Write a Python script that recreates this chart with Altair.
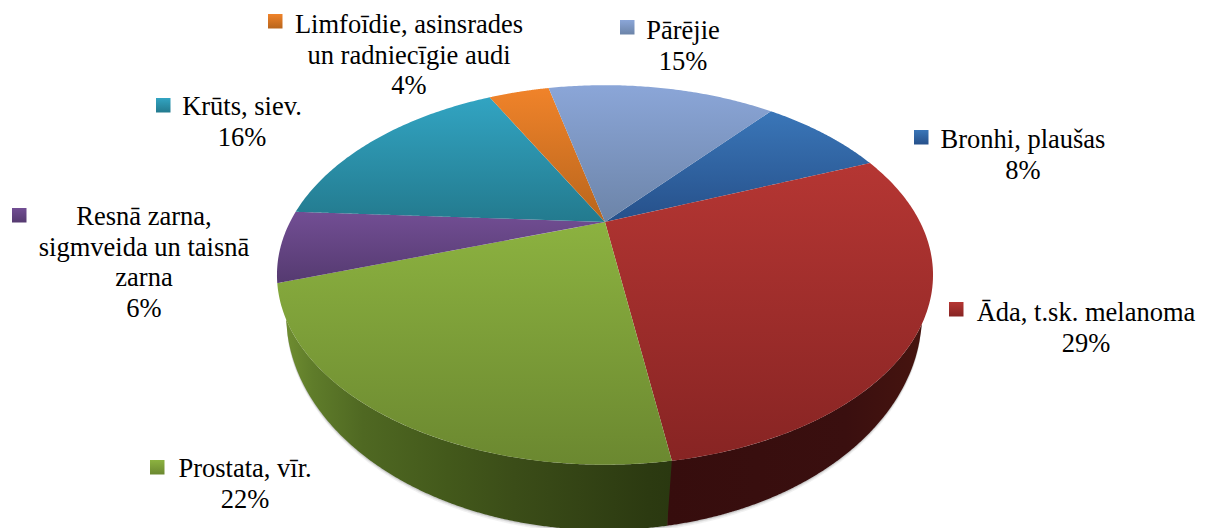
import numpy as np
import pandas as pd
import altair as alt

# ---- data ----
categories = ["Bronhi, plaušas", "Āda, t.sk. melanoma", "Prostata, vīr.",
              "Resnā zarna, sigmveida un taisnā zarna", "Krūts, siev.",
              "Limfoīdie, asinsrades un radniecīgie audi", "Pārējie"]
shares = [7.9, 28.6, 22.3, 6.1, 16.5, 3.9, 14.7]
pct_labels = ["8%", "29%", "22%", "6%", "16%", "4%", "15%"]
top_colors = ["#3a76b8", "#b53633", "#8cb240", "#724e94", "#32a4c2", "#f0832a", "#8ba6d8"]
bottom_colors = ["#26508a", "#872423", "#6b8830", "#553a70", "#237a8e", "#b8651c", "#6c84a8"]

label_lines = [
    ["Bronhi, plaušas"],
    ["Āda, t.sk. melanoma"],
    ["Prostata, vīr."],
    ["Resnā zarna,", "sigmveida un taisnā", "zarna"],
    ["Krūts, siev."],
    ["Limfoīdie, asinsrades", "un radniecīgie audi"],
    ["Pārējie"],
]

# ---- layout (page pixels) ----
W, H = 1192, 520
OFF = 8
APEX = (605.0, 222.0)
FX, FY, PERSP = 315.0, 175.0, 0.279
START = 50.24
LOW = dict(cx=604.0, cy=314.0, a=318.0, b=216.0)
label_cx = [1023, 1086, 245, 144, 242, 409, 683]
label_y = [148, 321, 477, 225, 115, 33, 39]
line_step = 30.6
key_xy = [(914, 130), (949, 302), (150, 460), (12, 208), (156, 98), (268, 14), (620, 20)]
KEY = 14.5
FONT = "Liberation Serif"
FSIZE = 26.5

X_SCALE = alt.Scale(domain=[0, W], nice=False, zero=False)
Y_SCALE = alt.Scale(domain=[H, 0], nice=False, zero=False)


def project(deg):
    t = np.radians(deg)
    c, s = np.cos(t), np.sin(t)
    den = 1 + PERSP * s
    return APEX[0] + FX * c / den, APEX[1] - FY * s / den


def grad(stops, horizontal=False):
    return alt.Gradient(
        gradient="linear",
        stops=[alt.GradientStop(color=c, offset=o) for o, c in stops],
        x1=0, y1=0, x2=1 if horizontal else 0, y2=0 if horizontal else 1,
    )


def area_layer(x, y0, y1, fill, opacity=1.0):
    df = pd.DataFrame({"x": np.asarray(x) - OFF, "y0": np.asarray(y0) - OFF, "y1": np.asarray(y1) - OFF})
    return alt.Chart(df).mark_area(color=fill, orient="vertical", opacity=opacity, clip=False).encode(
        x=alt.X("x:Q", scale=X_SCALE, axis=None),
        y=alt.Y("y0:Q", scale=Y_SCALE, axis=None),
        y2="y1:Q",
    )


def wedge(a0, a1):
    ts = np.linspace(a0, a1, 90)
    px, py = project(ts)
    vx = np.concatenate([[APEX[0]], px, [APEX[0]]])
    vy = np.concatenate([[APEX[1]], py, [APEX[1]]])
    xs = np.unique(vx)
    lo, hi = [], []
    for x in xs:
        hits = []
        for i in range(len(vx) - 1):
            x0, x1, y0, y1 = vx[i], vx[i + 1], vy[i], vy[i + 1]
            if min(x0, x1) <= x <= max(x0, x1):
                if x0 == x1:
                    hits += [y0, y1]
                else:
                    hits.append(y0 + (x - x0) / (x1 - x0) * (y1 - y0))
        lo.append(min(hits))
        hi.append(max(hits))
    return xs, lo, hi


# front rim of the top face as a function of x
rt = np.linspace(-200, 20, 1500)
rx, ry = project(rt)
i0, i1 = np.argmin(rx), np.argmax(rx)
rim_x, rim_y = rx[i0:i1 + 1], ry[i0:i1 + 1]


def top_rim(x):
    return np.interp(x, rim_x, rim_y)


def low_rim(x, dy=0.0):
    u = np.clip((np.asarray(x) - LOW["cx"]) / LOW["a"], -1, 1)
    return LOW["cy"] + dy + LOW["b"] * np.sqrt(1 - u ** 2)


# slice angles (clockwise from START)
edges = START - np.concatenate([[0], np.cumsum(shares)]) * 3.6

# divider between Āda and Prostata on the side wall
bx, by = project(edges[2])
bx2 = LOW["cx"] + (bx - LOW["cx"]) * 0.93

xl = LOW["cx"] - LOW["a"]
xr = LOW["cx"] + LOW["a"]

layers = []

# soft shadow below the wall
sx = np.linspace(xl, xr, 300)
for d, op in [(3.5, 0.10), (2.0, 0.16), (1.0, 0.22)]:
    layers.append(area_layer(sx, top_rim(sx), low_rim(sx, d), "#777777", op))

# red wall
rxs = np.linspace(bx2, xr, 200)
layers.append(area_layer(rxs, top_rim(rxs), np.maximum(top_rim(rxs), low_rim(rxs)),
                         grad([(0, "#360d0d"), (0.7, "#3a0f0f"), (1, "#46140f")], True)))

# green wall (its right edge leans with the divider)
gxs = np.unique(np.concatenate([np.linspace(xl, bx2, 240), np.linspace(bx2, bx, 6)]))
g_low = np.maximum(top_rim(gxs), low_rim(gxs))
mask = gxs > bx2
yb2 = float(low_rim(bx2))
g_low[mask] = yb2 + (gxs[mask] - bx2) / (bx - bx2) * (top_rim(bx) - yb2)
layers.append(area_layer(gxs, top_rim(gxs), g_low,
                         grad([(0, "#6f8d31"), (0.07, "#5f7c2a"), (0.2, "#4f6822"), (0.42, "#43591b"),
                               (0.59, "#3b4d18"), (0.94, "#2c3a11"), (1, "#2a3810")], True)))

# top face
for i in range(len(shares)):
    xs, lo, hi = wedge(edges[i], edges[i + 1])
    layers.append(area_layer(xs, lo, hi, grad([(0, top_colors[i]), (1, bottom_colors[i])])))

# legend keys
for i, (kx, ky) in enumerate(key_xy):
    df = pd.DataFrame({"x": [kx - OFF], "x2": [kx + KEY - OFF], "y": [ky - OFF], "y2": [ky + KEY - OFF]})
    layers.append(alt.Chart(df).mark_rect(color=grad([(0, top_colors[i]), (1, bottom_colors[i])])).encode(
        x=alt.X("x:Q", scale=X_SCALE, axis=None), x2="x2:Q",
        y=alt.Y("y:Q", scale=Y_SCALE, axis=None), y2="y2:Q",
    ))

# labels
rows = []
for i, lines in enumerate(label_lines):
    for j, line in enumerate(lines + [pct_labels[i]]):
        rows.append({"x": label_cx[i] - OFF, "y": label_y[i] + j * line_step - OFF, "t": line})
layers.append(alt.Chart(pd.DataFrame(rows)).mark_text(
    font=FONT, fontSize=FSIZE, color="#000000", align="center", baseline="alphabetic"
).encode(
    x=alt.X("x:Q", scale=X_SCALE, axis=None),
    y=alt.Y("y:Q", scale=Y_SCALE, axis=None),
    text="t:N",
))

chart = alt.layer(*layers).properties(
    width=W, height=H, padding=0, background="#ffffff",
    autosize=alt.AutoSizeParams(type="none"),
).configure_view(stroke=None)

chart.save("out.html", embed_options={"renderer": "svg", "actions": False})
